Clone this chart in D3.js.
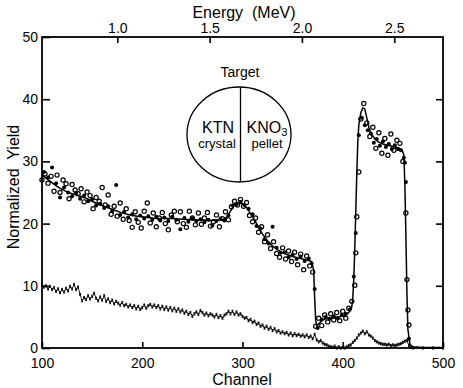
<!DOCTYPE html>
<html><head><meta charset="utf-8">
<script src="https://cdn.jsdelivr.net/npm/d3@7"></script>
<style>
body{margin:0;background:#fff;}
svg{display:block;font-family:"Liberation Sans",Arial,sans-serif;}
</style></head>
<body>
<svg id="c" width="463" height="388"></svg>
<script>
// ---- Data ----
const xTicks = [100, 200, 300, 400, 500];
const yTicks = [0, 10, 20, 30, 40, 50];
const energyTicks = [1.0, 1.5, 2.0, 2.5];
const energyDomain = [0.592, 2.764];

// fitted simulation (solid line)
const fitChannels = [100,105,110,115,120,125,130,135,140,145,150,155,160,165,170,175,180,185,190,195,200,210,220,230,240,250,260,270,280,284,288,292,296,300,304,308,312,316,320,325,330,335,340,345,350,355,360,365,369,371,372,373,374,376,380,385,390,395,400,404,407,409,410,411,412,413,414,415,416,418,420,422,424,426,428,432,436,440,445,450,455,459,461,462,463,464,465,467,470,480,500];
const fitYields = [27.8,27.2,26.6,26.0,25.5,25.1,24.8,24.6,24.3,24.0,23.6,23.2,22.9,22.6,22.3,22.0,21.7,21.5,21.3,21.2,21.1,20.9,20.8,20.8,20.7,20.6,20.5,20.5,20.6,21.0,22.0,23.0,23.4,23.2,22.6,21.6,20.6,19.4,18.3,17.2,16.4,15.8,15.3,15.0,14.7,14.5,14.3,14.1,13.9,12.5,8.0,4.5,3.6,3.9,4.5,4.8,4.9,5.0,5.1,5.4,5.9,6.6,8.0,11.0,16.0,22.0,28.0,33.0,35.8,37.8,38.6,38.4,37.0,35.5,34.6,33.6,33.1,32.8,32.6,32.4,32.2,31.9,31.0,26.0,18.0,9.0,3.0,0.6,0.2,0.1,0.1];

// open circles
const circleChannels = [100,103,106,109,112,115,118,121,124,127,130,133,136,139,142,145,148,151,154,157,160,163,166,169,172,175,178,181,184,187,190,193,196,199,202,205,208,211,214,217,220,223,226,229,232,235,238,241,244,247,250,253,256,259,262,265,268,271,274,277,280,283,286,289,292,295,298,301,304,307,310,313,316,319,322,325,328,331,334,337,340,343,346,349,352,355,358,361,364,367,370,373,376,379,382,385,388,391,394,397,400,403,406,409,412,413,414,416,418,421,424,427,430,433,436,439,442,445,448,451,454,457,460,463,464,465,466];
const circleYields = [27.0,28.0,26.5,27.6,25.2,27.8,25.0,27.0,26.4,24.0,26.3,25.4,24.8,25.6,23.5,25.1,24.5,22.4,24.2,23.6,25.8,23.0,24.6,21.5,22.8,21.2,23.3,20.7,22.4,20.5,19.4,21.9,20.2,19.3,22.0,23.3,20.1,21.7,19.5,20.9,21.8,20.0,19.0,21.4,22.0,20.3,21.9,20.0,19.4,22.0,20.9,19.8,21.7,19.9,20.9,21.8,19.6,20.3,21.4,19.5,20.8,21.9,20.6,22.7,23.6,23.0,23.9,22.8,23.4,21.3,20.3,20.9,18.6,19.5,17.1,18.2,16.0,17.1,15.2,14.6,16.1,14.3,15.6,13.9,15.4,13.4,15.1,12.6,14.8,13.2,12.2,3.5,4.8,3.6,5.3,4.2,5.5,4.5,5.7,4.4,5.9,4.8,6.4,7.5,10.1,15.3,21.1,28.3,36.8,39.3,36.2,34.0,35.5,32.1,34.6,31.3,33.7,31.0,34.4,31.8,33.4,32.9,30.0,21.7,11.0,6.1,3.7];

// filled dots
const dotChannels = [102,106,110,114,118,122,126,130,134,138,142,146,150,154,158,162,166,170,174,178,182,186,190,194,198,202,206,210,214,218,222,226,230,234,238,242,246,250,254,258,262,266,270,274,278,282,286,290,294,298,302,306,310,314,318,322,326,330,334,338,342,346,350,354,358,362,366,369,372,375,379,383,387,391,395,399,403,407,411,413,416,419,422,425,428,431,434,437,440,443,446,449,452,455,458,461,462,463,466];
const dotYields = [28.3,27.4,29.0,26.5,24.2,25.8,25.0,24.4,24.9,24.0,24.5,23.6,23.9,22.9,23.2,22.5,22.8,22.0,26.2,21.4,21.9,21.0,21.5,20.7,21.3,20.8,21.2,20.6,21.1,20.5,21.0,20.4,21.1,20.6,19.1,20.9,20.3,20.8,20.4,20.7,20.2,20.6,19.7,20.4,20.8,20.5,21.3,22.9,23.1,23.5,23.0,22.4,21.5,19.6,19.2,17.5,16.8,19.5,16.1,15.3,15.4,14.6,15.0,14.3,14.7,14.0,14.4,13.6,9.5,3.2,4.6,5.0,4.7,5.1,4.8,5.3,5.5,6.2,11.5,18.5,34.2,37.0,35.8,35.0,34.5,33.0,33.6,32.5,33.2,32.3,32.8,32.0,32.6,32.0,31.8,30.6,29.8,26.7,1.5];

// lower spectrum (dotted trace)
const lowChannels = [100,102,104,106,108,110,112,114,116,118,120,122,124,126,128,130,132,134,136,138,140,142,144,146,148,150,152,154,156,158,160,162,164,166,168,170,172,174,176,178,180,182,184,186,188,190,192,194,196,198,200,202,204,206,208,210,212,214,216,218,220,222,224,226,228,230,232,234,236,238,240,242,244,246,248,250,252,254,256,258,260,262,264,266,268,270,272,274,276,278,280,282,284,286,288,290,292,294,296,298,300,302,304,306,308,310,312,314,316,318,320,322,324,326,328,330,332,334,336,338,340,342,344,346,348,350,352,354,356,358,360,362,364,366,368,370,372,374,376,378,380,382,384,386,388,390,392,394,396,398,400,402,404,406,408,410,412,414,416,418,420,422,424,426,428,430,432,434,436,438,440,442,444,446,448,450,452,454,456,458,460,462,464,466,468,470,480,490,500];
const lowYields = [10.3,9.8,10.0,9.5,9.9,9.4,9.7,9.1,9.5,8.9,9.4,9.0,9.6,9.2,9.9,9.5,10.2,9.4,9.8,8.6,7.6,8.1,7.8,8.4,7.9,8.3,8.8,8.0,7.6,8.2,7.7,8.4,7.5,7.9,7.3,7.7,7.1,7.5,7.2,6.9,7.3,6.8,7.0,6.6,6.9,6.5,6.8,6.3,6.7,6.2,6.5,6.9,6.4,6.8,7.0,6.6,6.9,6.5,6.8,6.3,6.7,6.2,6.6,6.1,6.5,6.0,6.4,5.9,6.3,5.8,6.1,5.6,5.9,5.4,5.7,5.1,5.5,5.8,5.4,6.0,5.7,5.3,5.6,5.2,5.5,5.3,5.0,5.4,4.9,5.2,4.8,5.3,5.5,5.9,5.5,5.9,5.4,5.8,5.3,5.5,5.1,4.8,4.9,4.4,4.6,4.1,4.3,3.8,4.0,3.5,3.7,3.2,3.5,3.0,3.3,2.8,3.1,2.6,2.8,2.4,2.6,2.3,2.5,2.1,2.4,2.0,2.3,2.0,2.2,1.9,2.1,1.8,2.1,1.7,1.9,1.5,2.2,1.3,1.0,1.2,0.8,0.6,0.5,0.3,0.2,0.1,0.3,0.0,0.2,0.0,0.1,0.0,0.2,0.4,0.5,0.9,1.2,1.6,2.1,2.4,2.7,2.3,2.6,2.1,1.9,1.6,1.2,1.0,0.8,0.7,0.6,0.6,0.5,0.6,0.4,0.5,0.4,0.5,0.6,0.7,0.9,1.1,1.2,0.4,0.1,0.0,0.0,0.0,0.0];

// ---- Drawing ----
const svg = d3.select("#c");
const x = d3.scaleLinear().domain([100, 500]).range([42, 443]);
const y = d3.scaleLinear().domain([0, 50]).range([348, 37]);
const e = d3.scaleLinear().domain(energyDomain).range([42, 443]);

const fitData = fitChannels.map((c, i) => [c, fitYields[i]]);
const circleData = circleChannels.map((c, i) => [c, circleYields[i]]);
const dotData = dotChannels.map((c, i) => [c, dotYields[i]]);
const lowData = lowChannels.map((c, i) => [c, lowYields[i]]);

const line = d3.line().x(d => x(d[0])).y(d => y(d[1]));

// lower dotted trace
svg.append("path").datum(lowData).attr("d", line)
  .attr("fill", "none").attr("stroke", "#222").attr("stroke-width", 1);
svg.append("g").selectAll("rect").data(lowData).join("rect")
  .attr("x", d => x(d[0]) - 0.9).attr("y", d => y(d[1]) - 1.6)
  .attr("width", 1.8).attr("height", 3.2).attr("fill", "#111");

// fit line
svg.append("path").datum(fitData).attr("d", line)
  .attr("fill", "none").attr("stroke", "#000").attr("stroke-width", 1.5);

// filled dots
svg.append("g").selectAll("circle").data(dotData).join("circle")
  .attr("cx", d => x(d[0])).attr("cy", d => y(d[1])).attr("r", 2.0)
  .attr("fill", "#000");

// open circles
svg.append("g").selectAll("circle").data(circleData).join("circle")
  .attr("cx", d => x(d[0])).attr("cy", d => y(d[1])).attr("r", 2.1)
  .attr("fill", "none").attr("stroke", "#000").attr("stroke-width", 1.2);

// axes
const fs = "14px";
const gL = svg.append("g").attr("transform", `translate(${x(100)},0)`)
  .call(d3.axisLeft(y).tickValues(yTicks).tickSize(-8).tickPadding(4).tickFormat(d3.format("d")));
const gR = svg.append("g").attr("transform", `translate(${x(500)},0)`)
  .call(d3.axisRight(y).tickValues(yTicks.slice(1, 5)).tickSize(-7).tickFormat(""));
const gB = svg.append("g").attr("transform", `translate(0,${y(0)})`)
  .call(d3.axisBottom(x).tickValues(xTicks).tickSize(-6).tickPadding(10).tickFormat(d3.format("d")));
const gT = svg.append("g").attr("transform", `translate(0,${y(50)})`)
  .call(d3.axisTop(e).tickValues(energyTicks).tickSize(-6).tickPadding(4).tickFormat(d3.format(".1f")));
[gL, gR, gB, gT].forEach(g => {
  g.select(".domain").remove();
  g.selectAll("line").attr("stroke", "#000").attr("stroke-width", 1.6);
  g.selectAll("text").attr("fill", "#000").style("font-size", fs)
    .style("font-family", "'Liberation Sans', Arial, sans-serif");
});

// frame
svg.append("rect").attr("x", x(100)).attr("y", y(50))
  .attr("width", x(500) - x(100)).attr("height", y(0) - y(50))
  .attr("fill", "none").attr("stroke", "#000").attr("stroke-width", 1.8);

// axis titles
svg.append("text").attr("x", 242).attr("y", 385).attr("text-anchor", "middle")
  .style("font-size", "16px").text("Channel");
svg.append("text").attr("x", 244).attr("y", 18).attr("text-anchor", "middle")
  .style("font-size", "16px").style("white-space", "pre").text("Energy  (MeV)");
svg.append("text").attr("transform", "translate(19,187) rotate(-90)")
  .attr("text-anchor", "middle").style("font-size", "16px").style("white-space", "pre")
  .text("Normalized  Yield");

// target inset
const tg = svg.append("g");
tg.append("ellipse").attr("cx", 239).attr("cy", 134.5).attr("rx", 52).attr("ry", 47.5)
  .attr("fill", "#fff").attr("stroke", "#000").attr("stroke-width", 1.3);
tg.append("line").attr("x1", 240.5).attr("x2", 240.5).attr("y1", 87).attr("y2", 182)
  .attr("stroke", "#000").attr("stroke-width", 1.3);
tg.append("text").attr("x", 240).attr("y", 77).attr("text-anchor", "middle")
  .style("font-size", "14px").text("Target");
tg.append("text").attr("x", 218).attr("y", 133).attr("text-anchor", "middle")
  .style("font-size", "16px").text("KTN");
tg.append("text").attr("x", 217).attr("y", 148).attr("text-anchor", "middle")
  .style("font-size", "13px").text("crystal");
const kt = tg.append("text").attr("x", 267).attr("y", 133).attr("text-anchor", "middle")
  .style("font-size", "16px");
kt.append("tspan").text("KNO");
kt.append("tspan").attr("dy", 3).style("font-size", "11px").text("3");
tg.append("text").attr("x", 267).attr("y", 148).attr("text-anchor", "middle")
  .style("font-size", "13px").text("pellet");
</script>
</body></html>
